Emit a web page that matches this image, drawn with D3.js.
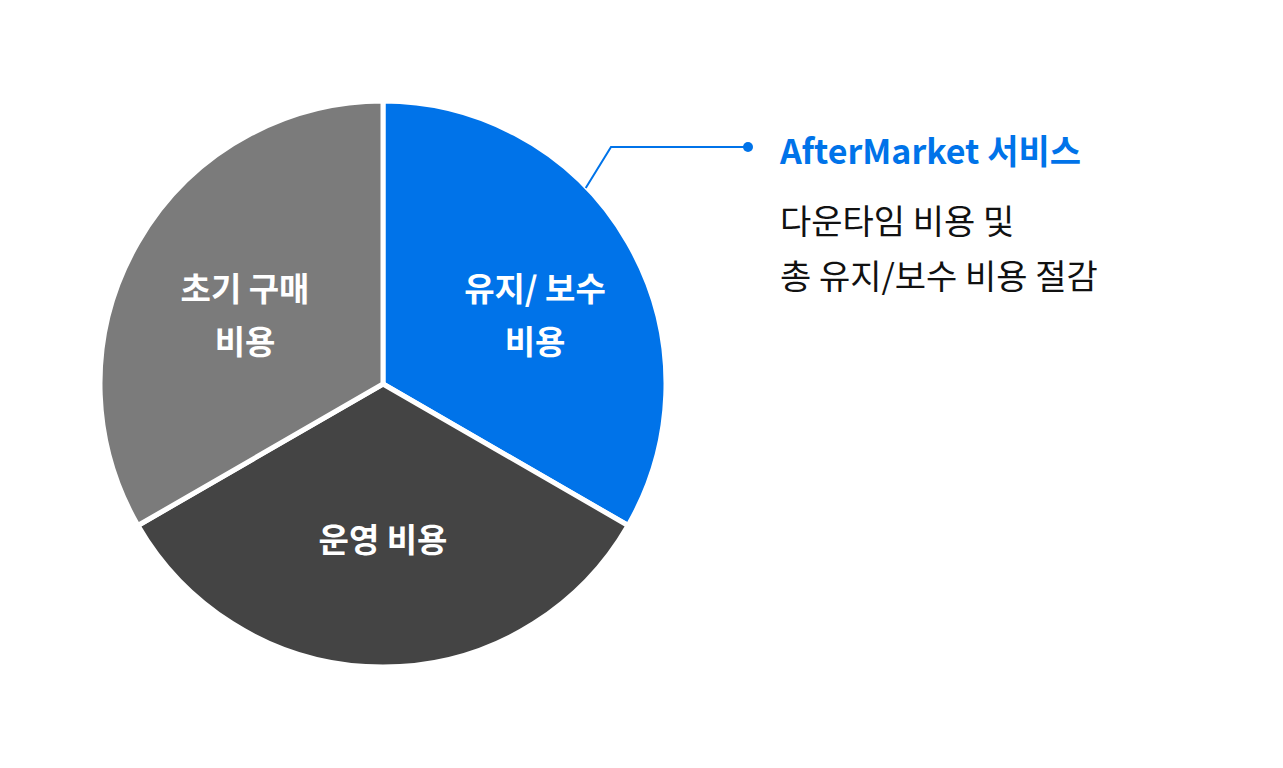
<!DOCTYPE html>
<html><head><meta charset="utf-8">
<script src="https://cdn.jsdelivr.net/npm/d3@7"></script>
<style>html,body{margin:0;padding:0;background:#fff;}svg{display:block;font-family:"Noto Sans CJK KR","Noto Sans",sans-serif;}</style>
</head><body>
<svg id="c" width="1283" height="768"></svg>
<script>
const categories = ["유지/ 보수 비용", "운영 비용", "초기 구매 비용"];
const labelLines = [["유지/ 보수", "비용"], ["운영 비용"], ["초기 구매", "비용"]];
const values = [1, 1, 1];
const colors = ["#0073E9", "#444444", "#7B7B7B"];
const calloutTitle = "AfterMarket 서비스";
const calloutLines = ["다운타임 비용 및", "총 유지/보수 비용 절감"];

const svg = d3.select("#c");
const cx = 383, cy = 384, r = 283;
const g = svg.append("g").attr("transform", `translate(${cx},${cy})`);
const pie = d3.pie().sort(null).value(d => d)(values);
const arc = d3.arc().innerRadius(0).outerRadius(r);
g.selectAll("path").data(pie).join("path")
  .attr("d", arc).attr("fill", (d,i) => colors[i])
  .attr("stroke", "#fff").attr("stroke-width", 5).attr("stroke-linejoin", "miter");

const labelPos = [[152, -94], [0, 157], [-138, -94]];
const lh = 53;
g.selectAll("text.lbl").data(pie).join("text").attr("class","lbl")
  .attr("text-anchor","middle").attr("fill","#fff")
  .attr("font-size", 33).attr("font-weight", 700)
  .each(function(d,i){
    const t = d3.select(this);
    labelLines[i].forEach((s,j) => {
      t.append("tspan").attr("x", labelPos[i][0]).attr("y", labelPos[i][1] + j*lh + 11).text(s);
    });
  });

// callout
const a0 = pie[0];
const ang = (a0.startAngle + a0.endAngle)/2 - 0.245;
const px = cx + Math.sin(ang)*(r-1), py = cy - Math.cos(ang)*(r-1);
svg.append("polyline")
  .attr("points", `${px},${py} 611,147 748,147`)
  .attr("fill","none").attr("stroke","#0073E9").attr("stroke-width",2);
svg.append("circle").attr("cx",748).attr("cy",147).attr("r",5).attr("fill","#0073E9");
svg.append("text").attr("x",780).attr("y",164).attr("font-size",34).attr("font-weight",700)
  .attr("fill","#0073E9").text(calloutTitle);
calloutLines.forEach((s,i)=>{
  svg.append("text").attr("x",780).attr("y",234 + i*55).attr("font-size",34).attr("font-weight",400)
    .attr("fill","#111").text(s);
});
</script>
</body></html>
